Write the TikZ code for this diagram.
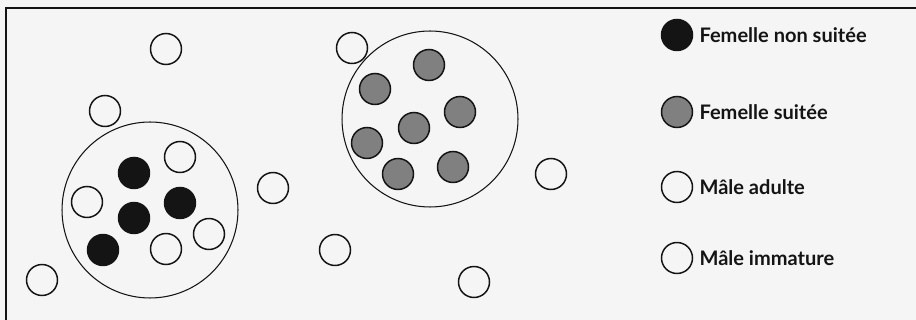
\documentclass[tikz,border=0pt]{standalone}
\usepackage{fontspec}
\setmainfont{Lato}
\usepackage{tikz}
\usetikzlibrary{positioning}
\definecolor{paper}{RGB}{245,245,245}
\definecolor{suited}{RGB}{128,128,128}
\definecolor{ink}{RGB}{20,20,20}
\tikzset{
  animal/.style={circle,draw=ink,line width=0.85pt,fill=#1,minimum size=0.62cm,inner sep=0pt},
  animal/.default=paper,
  herd/.style={circle,draw=ink,line width=0.6pt,minimum size=3.52cm,inner sep=0pt},
  key/.style={right=0.12cm of #1,font=\bfseries\fontsize{11.4}{13}\selectfont,text=ink,inner sep=0pt,anchor=west},
}
\begin{document}
\begin{tikzpicture}[x=0.02cm,y=-0.02cm]
  \useasboundingbox[fill=paper] (0,0) rectangle (916,320);
  \draw[ink,line width=0.9pt] (6,320) -- (6,8) -- (916,8);
  % herd with unsuited females
  \node[herd] (h1) at (150,210) {};
  \node[animal=ink] (n1) at (134,173) {};
  \node[animal=ink] (n2) at (180,203) {};
  \node[animal=ink] (n3) at (134,218) {};
  \node[animal=ink] (n4) at (103,250) {};
  \node[animal] (m1) at (180,157) {};
  \node[animal] (m2) at (87,202) {};
  \node[animal] (m3) at (209,234) {};
  \node[animal] (m4) at (166,249) {};
  % herd with suited females
  \node[herd] (h2) at (430,119) {};
  \node[animal=suited] (s1) at (429,65) {};
  \node[animal=suited] (s2) at (375,89) {};
  \node[animal=suited] (s3) at (460,112) {};
  \node[animal=suited] (s4) at (414,128) {};
  \node[animal=suited] (s5) at (367,143) {};
  \node[animal=suited] (s6) at (398,174) {};
  \node[animal=suited] (s7) at (453,167) {};
  % lone males
  \node[animal] (l1) at (166,49) {};
  \node[animal] (l2) at (105,111) {};
  \node[animal] (l3) at (273,188) {};
  \node[animal] (l4) at (42,280) {};
  \node[animal] (l5) at (352,48) {};
  \node[animal] (l6) at (551,174) {};
  \node[animal] (l7) at (335,250) {};
  \node[animal] (l8) at (474,282) {};
  % legend
  \node[animal=ink] (k1) at (677,35) {};
  \node[key=k1] (t1) {Femelle non suitée};
  \node[animal=suited] (k2) at (677,112) {};
  \node[key=k2] (t2) {Femelle suitée};
  \node[animal] (k3) at (677,187) {};
  \node[key=k3] (t3) {Mâle adulte};
  \node[animal] (k4) at (677,258) {};
  \node[key=k4] (t4) {Mâle immature};
\end{tikzpicture}
\end{document}
